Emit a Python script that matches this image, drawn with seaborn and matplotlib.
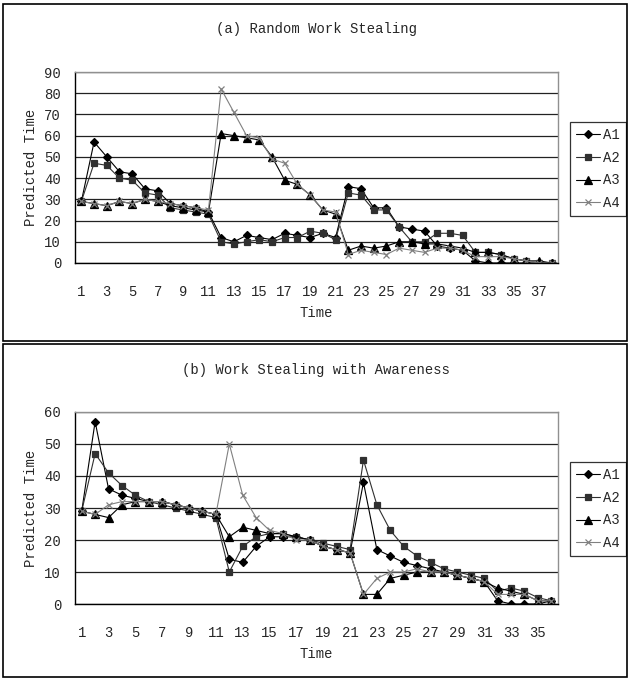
import numpy as np
import pandas as pd
import seaborn as sns
import matplotlib
matplotlib.use('Agg')
import matplotlib.pyplot as plt
from matplotlib.patches import Rectangle

# (a) Random Work Stealing, time steps 1..38
time_a = list(range(1, 39))
a1_a = [29, 57, 50, 43, 42, 35, 34, 28, 27, 26, 24, 12, 10, 13, 12, 11, 14, 13, 12, 14,
        12, 36, 35, 26, 26, 17, 16, 15, 8, 7, 6, 1, 0, 0, 0, 0, 0, 0]
a2_a = [29, 47, 46, 40, 39, 33, 32, 26, 25, 24, 23, 10, 9, 10, 11, 10, 12, 12, 15, 14,
        11, 33, 32, 25, 25, 17, 10, 10, 14, 14, 13, 5, 5, 4, 2, 1, 0, 0]
a3_a = [29, 28, 27, 29, 28, 30, 29, 27, 26, 25, 24, 61, 60, 59, 58, 50, 39, 37, 32, 25,
        23, 6, 8, 7, 8, 10, 10, 9, 9, 8, 7, 5, 5, 4, 2, 1, 1, 0]
a4_a = [29, 28, 27, 29, 28, 30, 29, 28, 27, 26, 25, 82, 71, 60, 59, 49, 47, 37, 32, 25,
        24, 4, 6, 5, 4, 7, 6, 5, 7, 7, 6, 3, 3, 3, 2, 1, 0, 0]

# (b) Work Stealing with Awareness, time steps 1..36
time_b = list(range(1, 37))
a1_b = [29, 57, 36, 34, 33, 32, 32, 31, 30, 29, 28, 14, 13, 18, 21, 21, 21, 20, 18, 17,
        16, 38, 17, 15, 13, 12, 11, 10, 9, 8, 7, 1, 0, 0, 0, 1]
a2_b = [29, 47, 41, 37, 34, 32, 31, 30, 29, 28, 27, 10, 18, 21, 22, 22, 21, 20, 19, 18,
        17, 45, 31, 23, 18, 15, 13, 11, 10, 9, 8, 4, 5, 4, 2, 1]
a3_b = [29, 28, 27, 31, 32, 32, 32, 31, 30, 29, 28, 21, 24, 23, 22, 22, 21, 20, 18, 17,
        16, 3, 3, 8, 9, 10, 10, 10, 9, 8, 7, 5, 4, 3, 1, 1]
a4_b = [29, 28, 31, 32, 32, 32, 32, 31, 30, 29, 28, 50, 34, 27, 23, 22, 20, 20, 18, 17,
        16, 3, 8, 10, 10, 11, 10, 10, 9, 8, 7, 3, 3, 3, 1, 1]

series = ['A1', 'A2', 'A3', 'A4']
markers = {'A1': 'D', 'A2': 's', 'A3': '^', 'A4': 'x'}
msizes = {'A1': 4.2, 'A2': 4.6, 'A3': 5.2, 'A4': 4.5}
colors = {'A1': 'black', 'A2': '#303030', 'A3': 'black', 'A4': '#808080'}

sns.set_style('white')
plt.rcParams['font.family'] = ['Liberation Mono', 'DejaVu Sans Mono']
plt.rcParams['font.size'] = 10

fig = plt.figure(figsize=(6.3, 6.8), dpi=100)

W, H = 630.0, 680.0


def panel(top_px, bot_px, times, data, ymax, title, title_y, legend_top):
    ax = fig.add_axes([75 / W, 1 - bot_px / H, 483 / W, (bot_px - top_px) / H])
    df = pd.DataFrame({'Time': times * 4,
                       'value': sum(data, []),
                       'series': sum([[s] * len(times) for s in series], [])})
    for s in series:
        sub = df[df['series'] == s]
        sns.lineplot(data=sub, x='Time', y='value', ax=ax, color=colors[s],
                     marker=markers[s], markersize=msizes[s], lw=0.8,
                     markeredgecolor=colors[s], markerfacecolor=colors[s],
                     markeredgewidth=0.9, label=s)
    n = len(times)
    ax.set_xlim(0.5, n + 0.5)
    ax.set_ylim(0, ymax)
    ax.set_yticks(range(0, ymax + 1, 10))
    ax.set_xticks(range(1, n + 1, 2))
    ax.set_xticks(np.arange(0.5, n + 1, 1.0), minor=True)
    ax.tick_params(axis='x', which='major', length=0, pad=16, labelsize=10)
    ax.tick_params(axis='x', which='minor', direction='in', length=4, width=0.8, color='black')
    ax.tick_params(axis='y', length=0, pad=10, labelsize=10)
    ax.yaxis.grid(True, color='#222222', lw=0.9)
    ax.xaxis.grid(False)
    ax.set_axisbelow(True)
    for side in ['left', 'bottom']:
        ax.spines[side].set_color('black')
        ax.spines[side].set_linewidth(1.0)
    for side in ['top', 'right']:
        ax.spines[side].set_color('#909090')
        ax.spines[side].set_linewidth(1.0)
    ax.set_xlabel('')
    ax.set_ylabel('')
    fig.text(316 / W, 1 - (bot_px + 50) / H, 'Time', ha='center', va='center', fontsize=10)
    fig.text(31 / W, 1 - (top_px + bot_px) / 2 / H, 'Predicted Time', rotation=90,
             ha='center', va='center', fontsize=10)
    fig.text(316 / W, 1 - title_y / H, title, ha='center', va='center', fontsize=10)
    ax.legend(loc='upper left', bbox_to_anchor=(570 / W, 1 - legend_top / H),
              bbox_transform=fig.transFigure, borderaxespad=0, frameon=True,
              fancybox=False, edgecolor='black', fontsize=10, handlelength=1.7,
              handletextpad=0.25, labelspacing=0.62, borderpad=0.45, numpoints=1)
    ax.get_legend().get_frame().set_linewidth(0.9)
    return ax


panel(72, 263, time_a, [a1_a, a2_a, a3_a, a4_a], 90,
      '(a) Random Work Stealing', 29, 122)
panel(412, 604, time_b, [a1_b, a2_b, a3_b, a4_b], 60,
      '(b) Work Stealing with Awareness', 370, 462)

# outer frames around each chart
fig.patches.append(Rectangle((3 / W, 1 - 341 / H), 624 / W, 337 / H, fill=False,
                             edgecolor='black', lw=1.2, transform=fig.transFigure))
fig.patches.append(Rectangle((3 / W, 1 - 677 / H), 624 / W, 333 / H, fill=False,
                             edgecolor='black', lw=1.2, transform=fig.transFigure))

fig.savefig('out.png', dpi=100)
